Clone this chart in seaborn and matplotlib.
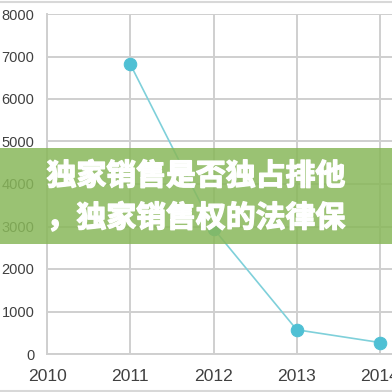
import matplotlib
matplotlib.use("Agg")
import matplotlib.pyplot as plt
import matplotlib.patheffects as pe
import seaborn as sns
import pandas as pd
from matplotlib.patches import Rectangle

# Yearly values
years = [2011, 2012, 2013, 2014]
values = [6820, 2950, 570, 270]
x_ticks = [2010, 2011, 2012, 2013, 2014]
y_ticks = [0, 1000, 2000, 3000, 4000, 5000, 6000, 7000, 8000]
title_lines = ["独家销售是否独占排他", "，独家销售权的法律保"]

df = pd.DataFrame({"year": years, "value": values})

sns.set_style("white")
plt.rcParams["font.family"] = ["Noto Sans CJK SC", "DejaVu Sans"]

fig = plt.figure(figsize=(3.92, 3.92), dpi=100)
ax = fig.add_axes([47 / 392, 1 - 354 / 392, 1 - 47 / 392, 340 / 392])

grid_color = "#cfcfcf"
ax.set_xlim(2010, 2014 + 12 / 83.25)
ax.set_ylim(0, 8000)
ax.set_xticks(x_ticks)
ax.set_yticks(y_ticks)
ax.grid(True, color=grid_color, linewidth=1.4)
ax.set_axisbelow(True)

sns.lineplot(data=df, x="year", y="value", ax=ax, color="#7fd0da",
             linewidth=1.2, marker="o", markersize=9,
             markerfacecolor="#4fc0d4", markeredgecolor="#4fc0d4", zorder=3)

ax.set_xlabel("")
ax.set_ylabel("")
for side in ("top", "right"):
    ax.spines[side].set_visible(False)
for side in ("left", "bottom"):
    ax.spines[side].set_color(grid_color)
    ax.spines[side].set_linewidth(1.4)

ax.tick_params(axis="both", length=0, colors="#404040")
ax.tick_params(axis="x", pad=11, labelsize=12.6)
ax.tick_params(axis="y", pad=9, labelsize=10.5)
ax.set_xticklabels([str(t) for t in x_ticks], family="Liberation Sans")
ax.set_yticklabels([str(t) for t in y_ticks], family="Liberation Sans")

# Thin frame lines at the top and bottom edges of the figure
fig.add_artist(plt.Line2D([0, 1], [1 - 1.5 / 392, 1 - 1.5 / 392],
                          transform=fig.transFigure, color="#d8d8d8", linewidth=1.5))
fig.add_artist(plt.Line2D([0, 1], [1.5 / 392, 1.5 / 392],
                          transform=fig.transFigure, color="#d8d8d8", linewidth=1.5))

# Green title banner across the middle
fig.add_artist(Rectangle((0, 1 - 244 / 392), 1, 96 / 392, transform=fig.transFigure,
                         facecolor="#89b85a", alpha=0.85, edgecolor="none", zorder=5))
heavy = [pe.withStroke(linewidth=1.0, foreground="white")]
fig.text(0.5, 1 - 176 / 392, title_lines[0], ha="center", va="center",
         fontsize=21.5, fontweight="bold", color="white", zorder=6, path_effects=heavy)
fig.text(0.5, 1 - 218 / 392, title_lines[1], ha="center", va="center",
         fontsize=21.5, fontweight="bold", color="white", zorder=6, path_effects=heavy)

fig.savefig("out.png", dpi=100)
